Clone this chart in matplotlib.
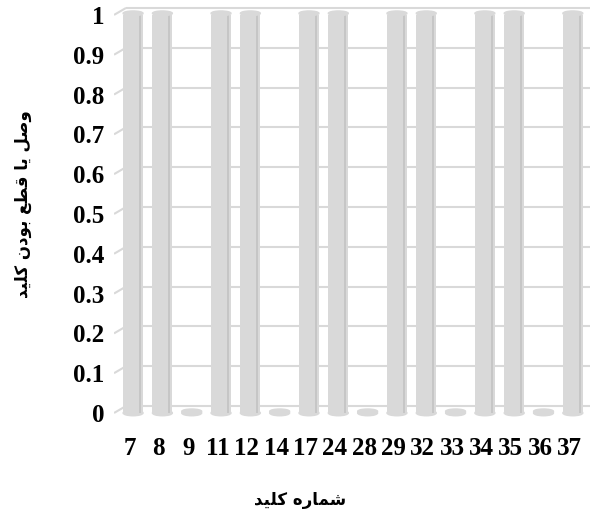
import matplotlib.pyplot as plt
from matplotlib.patches import Ellipse

# data
keys = ['7', '8', '9', '11', '12', '14', '17', '24', '28', '29',
        '32', '33', '34', '35', '36', '37']
state = [1, 1, 0, 1, 1, 0, 1, 1, 0, 1, 1, 0, 1, 1, 0, 1]
y_ticks = [0, 0.1, 0.2, 0.3, 0.4, 0.5, 0.6, 0.7, 0.8, 0.9, 1]
y_tick_labels = ['0', '0.1', '0.2', '0.3', '0.4', '0.5', '0.6', '0.7', '0.8', '0.9', '1']


# matplotlib does no arabic shaping, so the titles are written with
# presentation forms and reversed into visual order
def visual(s):
    return s[::-1]

x_title = visual('\uFEB7\uFEE4\uFE8E\uFEAD\uFEE9 \uFB90\uFEE0\uFEF4\uFEAA')  # شماره کلید
y_title = visual('\uFEED\uFEBB\uFEDE \uFEF3\uFE8E \uFED7\uFEC4\uFECA '
                 '\uFE91\uFEEE\uFEA9\uFEE5 \uFB90\uFEE0\uFEF4\uFEAA')      # وصل یا قطع بودن کلید

body = '#d9d9d9'
edge = '#c6c6c6'
grid = '#d9d9d9'

fig = plt.figure(figsize=(5.97, 5.24), dpi=100)
ax = fig.add_axes([0.191, 0.1985, 0.797, 0.792])

x = list(range(len(keys)))
x_left, x_right = -0.65, 15.58
dy = 0.0176            # depth of the back wall
dx = 0.41

# back wall gridlines with small slanted stubs
for v in y_ticks:
    ax.plot([x_left, x_left + dx], [v, v + dy], color=grid, lw=1.5, zorder=1,
            solid_capstyle='butt')
    ax.plot([x_left + dx, x_right], [v + dy, v + dy], color=grid, lw=1.5, zorder=1,
            solid_capstyle='butt')

w = 0.68
ax.bar(x, state, width=w, color=body, zorder=3)
ax.bar([i + 0.23 for i in x], state, width=0.07, color=edge, zorder=4)
for i, v in zip(x, state):
    ax.add_patch(Ellipse((i, 0), w, 0.014, color=body, zorder=2))
    ax.add_patch(Ellipse((i, v + 0.004), w, 0.012, color=body, zorder=5))

ax.set_xlim(x_left, x_right)
ax.set_ylim(-0.0176, 1.025)
ax.set_xticks([i - 0.12 for i in x])
ax.set_xticklabels(keys)
ax.set_yticks(y_ticks)
ax.set_yticklabels(y_tick_labels)
ax.tick_params(length=0)
ax.tick_params(axis='x', pad=12)
ax.tick_params(axis='y', pad=7)
for lab in ax.get_xticklabels() + ax.get_yticklabels():
    lab.set_fontfamily('Liberation Serif')
    lab.set_fontweight('bold')
    lab.set_fontsize(18)
for s in ax.spines.values():
    s.set_visible(False)

fig.text(0.503, 0.045, x_title, ha='center', va='center', fontsize=12,
         fontweight='bold', family=['DejaVu Sans'])
fig.text(0.038, 0.61, y_title, ha='center', va='center', rotation=90, fontsize=12,
         fontweight='bold', family=['DejaVu Sans'])

fig.savefig('out.png', dpi=100)
